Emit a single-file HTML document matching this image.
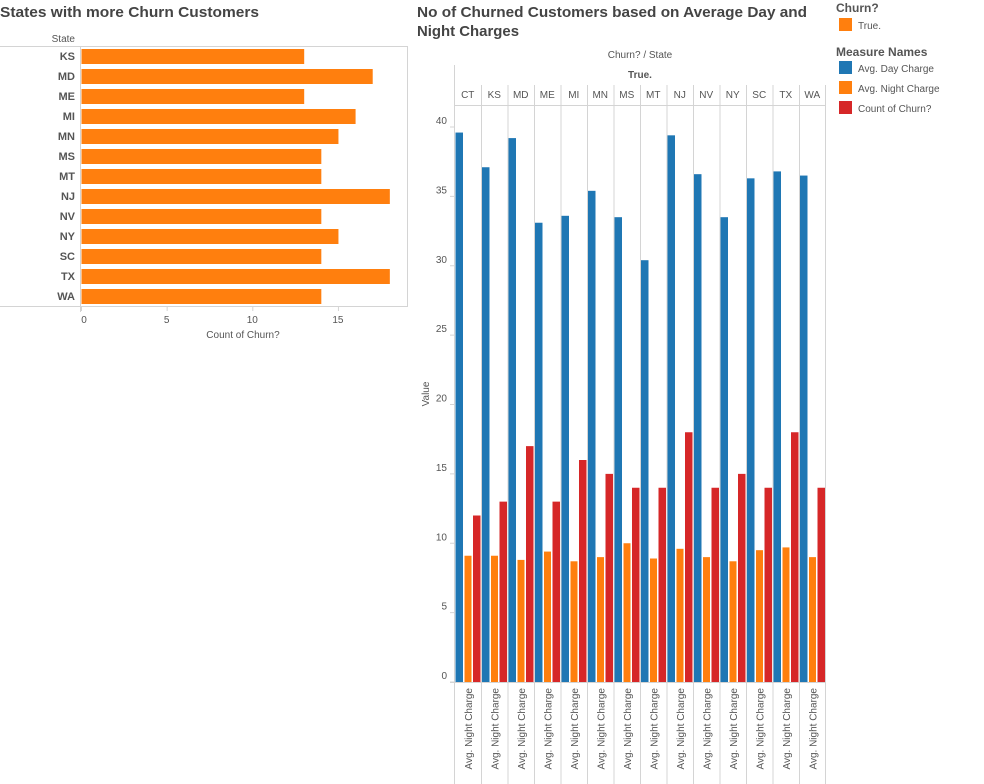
<!DOCTYPE html>
<html><head><meta charset="utf-8">
<style>
html,body{margin:0;padding:0;background:#fff;}
body{width:984px;height:784px;overflow:hidden;position:relative;font-family:"Liberation Sans",sans-serif;}
svg{position:absolute;left:0;top:0;}
</style></head>
<body>
<svg id="chart" width="984" height="784"></svg>
<script>
// Left chart data
const leftStates = ["KS","MD","ME","MI","MN","MS","MT","NJ","NV","NY","SC","TX","WA"];
const leftCounts = [13,17,13,16,15,14,14,18,14,15,14,18,14];
const leftTicks = [0,5,10,15];
// Right chart data
const rightStates = ["CT","KS","MD","ME","MI","MN","MS","MT","NJ","NV","NY","SC","TX","WA"];
const dayCharge = [39.6,37.1,39.2,33.1,33.6,35.4,33.5,30.4,39.4,36.6,33.5,36.3,36.8,36.5];
const nightCharge = [9.1,9.1,8.8,9.4,8.7,9.0,10.0,8.9,9.6,9.0,8.7,9.5,9.7,9.0];
const churnCount = [12,13,17,13,16,15,14,14,18,14,15,14,18,14];
const rightTicks = [0,5,10,15,20,25,30,35,40];

const NS="http://www.w3.org/2000/svg";
const svg=document.getElementById('chart');
function mk(tag,attrs,parent){const e=document.createElementNS(NS,tag);for(const k in attrs)e.setAttribute(k,attrs[k]);(parent||svg).appendChild(e);return e;}
function txt(s,attrs,parent){const e=mk('text',attrs,parent);e.textContent=s;return e;}
const BLUE="#1f77b4",ORANGE="#ff7f0e",RED="#d62728",GRID="#d4d4d4",TC="#555";

// Titles
let t=txt("States with more Churn Customers",{x:0,y:17,'font-size':15,'font-weight':'bold',fill:'#444',textLength:259,lengthAdjust:'spacingAndGlyphs'});

t=txt("No of Churned Customers based on Average Day and",{x:417,y:17,'font-size':15,'font-weight':'bold',fill:'#444',textLength:390,lengthAdjust:'spacingAndGlyphs'});

t=txt("Night Charges",{x:417,y:36,'font-size':15,'font-weight':'bold',fill:'#444',textLength:102,lengthAdjust:'spacingAndGlyphs'});


// ---- Left chart ----
const lx0=81, lpx=17.13, ly0=46, rowH=20;
function lx(v){return lx0+v*lpx;}
mk('path',{d:'M0 46.5 H407.5 V306.5 H0',fill:'none',stroke:GRID,'stroke-width':1});
mk('line',{x1:80.5,y1:46,x2:80.5,y2:312,stroke:GRID});
t=txt("State",{x:75,y:42,'font-size':10,fill:TC,'text-anchor':'end'});

leftStates.forEach((s,i)=>{
  const y=ly0+i*rowH;
  const l=txt(s,{x:75,y:y+14,'font-size':11,'font-weight':'bold',fill:TC,'text-anchor':'end'});
  
  const b=mk('rect',{x:lx(0)+0.5,y:y+3,width:lx(leftCounts[i])-lx(0),height:15,fill:ORANGE});
  
});
leftTicks.forEach(v=>{
  mk('line',{x1:lx(v)+0.5,y1:306,x2:lx(v)+0.5,y2:311,stroke:GRID});
  const l=txt(String(v),{x:lx(v)+(v===0?3:0),y:323,'font-size':10,fill:TC,'text-anchor':'middle'});
  
});
t=txt("Count of Churn?",{x:243,y:338,'font-size':10,fill:TC,'text-anchor':'middle'});


// ---- Right chart ----
const rx0=454.5, colW=26.5, ry0=682, runit=13.875;
function ry(v){return ry0-v*runit;}
const plotR=rx0+colW*rightStates.length;
t=txt("Churn?  /  State",{x:640,y:58,'font-size':10,fill:TC,'text-anchor':'middle'});

t=txt("True.",{x:640,y:78,'font-size':10,'font-weight':'bold',fill:TC,'text-anchor':'middle'});

mk('line',{x1:rx0,y1:65,x2:rx0,y2:784,stroke:GRID});
mk('line',{x1:plotR,y1:85,x2:plotR,y2:784,stroke:GRID});
mk('line',{x1:rx0,y1:105.5,x2:plotR,y2:105.5,stroke:GRID});
mk('line',{x1:450,y1:682.5,x2:plotR,y2:682.5,stroke:GRID});
rightTicks.forEach(v=>{
  mk('line',{x1:450,y1:ry(v),x2:rx0,y2:ry(v),stroke:GRID});
  const l=txt(String(v),{x:447,y:ry(v)-3,'font-size':10,fill:TC,'text-anchor':'end'});
  
});
t=txt("Value",{x:0,y:0,'font-size':10,fill:TC,'text-anchor':'middle',transform:'translate(429,394) rotate(-90)'});

rightStates.forEach((s,i)=>{
  const cx=rx0+i*colW;
  if(i>0) mk('line',{x1:cx+0.5,y1:85,x2:cx+0.5,y2:784,stroke:GRID});
  const l=txt(s,{x:cx+colW/2,y:98,'font-size':10,fill:TC,'text-anchor':'middle'});
  
  const b1=mk('rect',{x:cx+1,y:ry(dayCharge[i]),width:7.5,height:ry(0)-ry(dayCharge[i]),fill:BLUE});
  
  const b2=mk('rect',{x:cx+10,y:ry(nightCharge[i]),width:7,height:ry(0)-ry(nightCharge[i]),fill:ORANGE});
  
  const b3=mk('rect',{x:cx+18.5,y:ry(churnCount[i]),width:7.5,height:ry(0)-ry(churnCount[i]),fill:RED});
  
  const x=txt("Avg. Night Charge",{x:0,y:0,'font-size':10,fill:TC,'text-anchor':'end',transform:'translate('+(cx+colW/2+4)+',688) rotate(-90)'});
  
});

// ---- Legend ----
t=txt("Churn?",{x:836,y:12,'font-size':12,'font-weight':'bold',fill:TC});

let sw=mk('rect',{x:839,y:18,width:13,height:13,fill:ORANGE});

t=txt("True.",{x:858,y:29,'font-size':10,fill:TC});

t=txt("Measure Names",{x:836,y:56,'font-size':12,'font-weight':'bold',fill:TC});

[["Avg. Day Charge",BLUE],["Avg. Night Charge",ORANGE],["Count of Churn?",RED]].forEach((e,i)=>{
  const y=61+i*20;
  const s=mk('rect',{x:839,y:y,width:13,height:13,fill:e[1]});
  
  const l=txt(e[0],{x:858,y:y+11,'font-size':10,fill:TC});
  
});
</script>
</body></html>
